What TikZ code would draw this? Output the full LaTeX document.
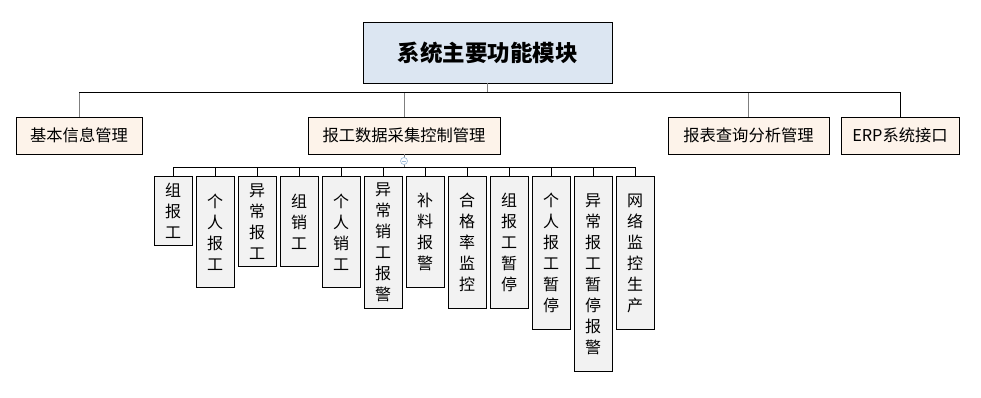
\documentclass[tikz,border=0pt]{standalone}
\usepackage{fontspec}
\usetikzlibrary{calc}
\setmainfont{Noto Sans CJK SC}
\begin{document}
\begin{tikzpicture}[x=1pt,y=-1pt,
  box/.style={draw=black,line width=0.9pt,inner sep=0pt},
  topbox/.style={box,fill=topfill,minimum width=249,minimum height=61,font=\fontsize{22.5}{26}\selectfont\bfseries},
  midbox/.style={box,fill=midfill,minimum height=37,font=\fontsize{16.3}{19}\selectfont},
  leaf/.style={box,fill=leaffill,minimum width=38,anchor=north,align=center,font=\fontsize{16}{21}\selectfont},
  bus/.style={line width=0.9pt,draw=black},
  stem/.style={line width=0.9pt,draw=stemgray}]
\definecolor{topfill}{HTML}{DCE6F2}
\definecolor{midfill}{HTML}{FDF3EA}
\definecolor{leaffill}{HTML}{F2F2F2}
\definecolor{stemgray}{HTML}{7F7F7F}
\definecolor{iconblue}{HTML}{9DBAD9}
\useasboundingbox (0,0) rectangle (981,397);
\node[topbox] (top) at (487.5,52.5) {系统主要功能模块};
\node[midbox,minimum width=126] (b1) at (79,135.5) {基本信息管理};
\node[midbox,minimum width=192] (b2) at (404,135.5) {报工数据采集控制管理};
\node[midbox,minimum width=161] (b3) at (748.5,135.5) {报表查询分析管理};
\node[midbox,minimum width=118] (b4) at (900,135.5) {ERP系统接口};
\draw[stem] (top.south) -- ++(0,10);
\draw[bus] (b1.north) ++(0,-24) -| (b4.north);
\draw[stem] (b1.north) -- ++(0,-24);
\draw[stem] (b2.north) -- ++(0,-24);
\draw[stem] (b3.north) -- ++(0,-24);
% leaves
\node[leaf,minimum height=69]  (l1)  at (173,176) {组\\报\\工};
\node[leaf,minimum height=111] (l2)  at (215,176) {个\\人\\报\\工};
\node[leaf,minimum height=90]  (l3)  at (257,176) {异\\常\\报\\工};
\node[leaf,minimum height=90]  (l4)  at (299,176) {组\\销\\工};
\node[leaf,minimum height=111] (l5)  at (341,176) {个\\人\\销\\工};
\node[leaf,minimum height=132] (l6)  at (383,176) {异\\常\\销\\工\\报\\警};
\node[leaf,minimum height=111] (l7)  at (425,176) {补\\料\\报\\警};
\node[leaf,minimum height=132] (l8)  at (467,176) {合\\格\\率\\监\\控};
\node[leaf,minimum height=132] (l9)  at (509,176) {组\\报\\工\\暂\\停};
\node[leaf,minimum height=153] (l10) at (551,176) {个\\人\\报\\工\\暂\\停};
\node[leaf,minimum height=195] (l11) at (593,176) {异\\常\\报\\工\\暂\\停\\报\\警};
\node[leaf,minimum height=153] (l12) at (635,176) {网\\络\\监\\控\\生\\产};
\draw[stem] (b2.south) -- ++(0,13);
\draw[bus] (l1.north) -- ++(0,-9) -| (l12.north);
\foreach \i in {2,...,11}{\draw[bus] (l\i.north) -- ++(0,-9);}
\node[circle,draw=iconblue,fill=white,line width=0.6pt,minimum size=7,inner sep=0pt] (icon) at (404,161) {};
\draw[iconblue,line width=0.6pt] ($(icon.west)+(1.5,0)$) -- ($(icon.east)+(-1.5,0)$);
\end{tikzpicture}
\end{document}
